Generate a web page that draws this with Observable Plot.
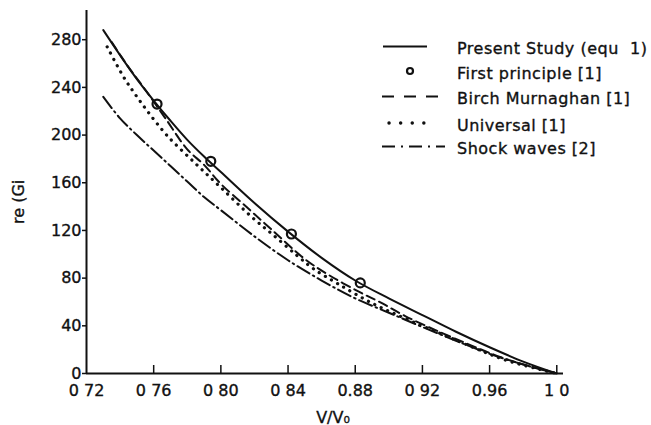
<!DOCTYPE html>
<html><head><meta charset="utf-8">
<script src="https://cdn.jsdelivr.net/npm/d3@7"></script>
<script src="https://cdn.jsdelivr.net/npm/@observablehq/plot@0.6"></script>
<style>body{margin:0;background:#fff} svg{display:block} svg text{paint-order:stroke;stroke:#111;stroke-width:0.35px}</style>
</head><body><div id="chart"></div>
<script>
// tick values and labels (as printed in the reference)
const xTicks = [0.72, 0.76, 0.80, 0.84, 0.88, 0.92, 0.96, 1.00];
const xTickLabels = ["0 72", "0 76", "0 80", "0 84", "0.88", "0 92", "0.96", "1 0"];
const yTicks = [0, 40, 80, 120, 160, 200, 240, 280];
const xLabel = "V/V\u2080";
const yLabel = "re (Gi";

// series
const seriesNames = ["Present Study (equ  1)", "First principle [1]", "Birch Murnaghan [1]", "Universal [1]", "Shock waves [2]"];

const presentX = [0.73, 0.74, 0.75, 0.76, 0.77, 0.78, 0.79, 0.80, 0.82, 0.84, 0.86, 0.88, 0.90, 0.92, 0.94, 0.96, 0.98, 1.00];
const presentY = [288, 267, 247, 229, 212, 196, 182, 169, 143, 119, 97, 78, 63, 49, 35, 22, 10, 0];

const firstX = [0.762, 0.794, 0.842, 0.883];
const firstY = [226, 178, 117, 76];

const birchX = [0.735, 0.745, 0.755, 0.767, 0.78, 0.79, 0.80, 0.815, 0.83, 0.85, 0.865, 0.883, 0.895, 0.91, 0.93, 0.95, 0.97, 1.00];
const birchY = [278, 257, 238, 214, 188, 175, 159, 140, 121, 96, 82, 68, 59.6, 48, 35, 23, 12, 0];

const univX = [0.7323, 0.7422, 0.7481, 0.756, 0.768, 0.785, 0.80, 0.8186, 0.8305, 0.8453, 0.855, 0.87, 0.89, 0.91, 0.93, 0.95, 0.97, 1.00];
const univY = [274, 248.5, 236, 220.6, 199.6, 176, 156, 131, 117, 99, 88, 75, 59, 46, 34, 22, 11, 0];

const shockX = [0.73, 0.74, 0.75, 0.76, 0.77, 0.78, 0.79, 0.80, 0.82, 0.84, 0.86, 0.88, 0.90, 0.92, 0.94, 0.96, 0.98, 1.00];
const shockY = [232, 214, 200, 187, 174, 161, 148, 137, 115, 95, 78, 63, 51, 39, 27.5, 16.5, 7.5, 0];

const toRows = (xs, ys) => xs.map((x, i) => ({x, y: ys[i]}));
const ink = "#111";
const dashes = {birch: "9,5", univ: "0.1,7", shock: "14,4,1.5,4"};

const plot = Plot.plot({
  width: 651, height: 425,
  marginLeft: 86, marginRight: 88, marginTop: 10, marginBottom: 52,
  style: {fontFamily: "DejaVu Sans", fontSize: "16px", color: ink, background: "#fff"},
  x: {domain: [0.72, 1.004]},
  y: {domain: [0, 304.5]},
  marks: [
    Plot.axisY({ticks: yTicks, tickSize: 4, tickPadding: 1, label: null, strokeWidth: 1.5}),
    Plot.axisX({ticks: xTicks, tickFormat: d => xTickLabels[xTicks.indexOf(d)], tickSize: 0, tickPadding: 11, label: null}),
    Plot.axisX({ticks: xTicks.slice(1), tickSize: 8, dy: -8, text: null, label: null, strokeWidth: 1.5}),
    Plot.ruleX([0.72], {stroke: ink, strokeWidth: 2}),
    Plot.ruleY([0], {stroke: ink, strokeWidth: 2}),
    Plot.line(toRows(shockX, shockY), {x: "x", y: "y", curve: "catmull-rom", stroke: ink, strokeWidth: 2, strokeDasharray: dashes.shock}),
    Plot.line(toRows(univX, univY), {x: "x", y: "y", curve: "catmull-rom", stroke: ink, strokeWidth: 3.2, strokeLinecap: "round", strokeDasharray: dashes.univ}),
    Plot.line(toRows(birchX, birchY), {x: "x", y: "y", curve: "catmull-rom", stroke: ink, strokeWidth: 2, strokeDasharray: dashes.birch}),
    Plot.line(toRows(presentX, presentY), {x: "x", y: "y", curve: "catmull-rom", stroke: ink, strokeWidth: 2}),
    Plot.dot(toRows(firstX, firstY), {x: "x", y: "y", r: 4.5, stroke: ink, strokeWidth: 2.2, fill: "none"}),
    Plot.text([yLabel], {frameAnchor: "left", dx: -68, dy: 32, rotate: -90, fill: ink, fontSize: 16}),
    Plot.text([xLabel], {frameAnchor: "bottom", dx: 8, dy: 49, lineAnchor: "bottom", fill: ink, fontSize: 16})
  ]
});

// legend
const svg = d3.select(plot);
const lg = svg.append("g").attr("fill", ink).attr("stroke", ink).attr("font-family", "DejaVu Sans").attr("font-size", 16).attr("text-anchor", "start");
const rowsY = [54, 78.5, 104, 130.5, 154];
const sampleStyle = [
  {type: "line", x1: 383, x2: 427, dash: null, w: 2},
  {type: "dot"},
  {type: "line", x1: 382, x2: 440, dash: "12,10", w: 2.2},
  {type: "line", x1: 389, x2: 435, dash: "0.1,11.5", w: 3.4, cap: "round"},
  {type: "line", x1: 382, x2: 445, dash: "13,6,2,6", w: 2.2}
];
seriesNames.forEach((name, i) => {
  const yb = rowsY[i];
  const ym = yb - 6.5;
  const s = sampleStyle[i];
  if (s.type === "dot") {
    lg.append("circle").attr("cx", 410).attr("cy", ym - 1).attr("r", 3).attr("fill", "none").attr("stroke-width", 2.2);
  } else {
    lg.append("line").attr("x1", s.x1).attr("x2", s.x2).attr("y1", ym - 1).attr("y2", ym - 1)
      .attr("stroke-width", s.w).attr("stroke-dasharray", s.dash).attr("stroke-linecap", s.cap || "butt");
  }
  lg.append("text").attr("x", 457).attr("y", yb).attr("text-anchor", "start")
    .attr("letter-spacing", "0.5px").style("white-space", "pre").text(name);
});

document.getElementById("chart").appendChild(plot);
</script>
</body></html>
